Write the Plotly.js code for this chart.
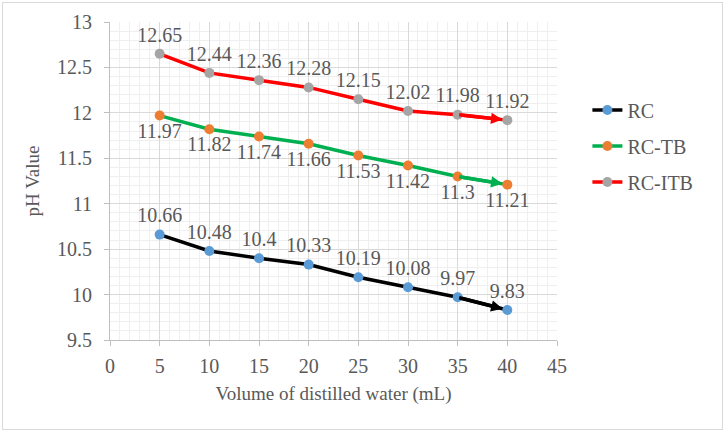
<!DOCTYPE html>
<html>
<head>
<meta charset="utf-8">
<script src="https://cdn.plot.ly/plotly-3.0.1.min.js"></script>
<style>
  body { margin: 0; background: #fff; }
  #frame { position: absolute; left: 2px; top: 2px; width: 719px; height: 426px; border: 1px solid #d9d9d9; }
  #chart { width: 719px; height: 426px; }
</style>
</head>
<body>
<div id="frame"><div id="chart"></div></div>
<script>
// volume of distilled water (mL)
const volume = [5, 10, 15, 20, 25, 30, 35, 40];
const rc = [10.66, 10.48, 10.4, 10.33, 10.19, 10.08, 9.97, 9.83];
const rcTb = [11.97, 11.82, 11.74, 11.66, 11.53, 11.42, 11.3, 11.21];
const rcItb = [12.65, 12.44, 12.36, 12.28, 12.15, 12.02, 11.98, 11.92];

const SERIES = [
  { name: 'RC', y: rc, line: '#000000', marker: '#5B9BD5', pos: 'top center' },
  { name: 'RC-TB', y: rcTb, line: '#00B050', marker: '#ED7D31', pos: 'bottom center' },
  { name: 'RC-ITB', y: rcItb, line: '#FF0000', marker: '#A5A5A5', pos: 'top center' }
];

const SERIF = 'Liberation Serif, Times New Roman, serif';
const font = (size) => ({ family: SERIF, size: size || 20, color: '#595959' });

const data = SERIES.map((s, i) => ({
  x: volume, y: s.y, name: s.name, legendgroup: 'g' + i,
  type: 'scatter', mode: 'lines+markers+text',
  line: { color: s.line, width: 3.5 },
  marker: { color: s.marker, size: 10 },
  text: s.y.map(v => String(v)), textposition: s.pos, textfont: font(),
  cliponaxis: false, hoverinfo: 'x+y'
}));

// arrow heads on last segment of each line
const n = volume.length;
const annotations = SERIES.map(s => ({
  x: volume[n - 1], y: s.y[n - 1], ax: volume[n - 2], ay: s.y[n - 2],
  xref: 'x', yref: 'y', axref: 'x', ayref: 'y',
  text: '', showarrow: true, arrowhead: 2, arrowsize: 0.65,
  arrowwidth: 3.5, arrowcolor: s.line, standoff: 5
}));

const layout = {
  width: 719, height: 426,
  margin: { l: 107, r: 165, t: 19, b: 89 },
  paper_bgcolor: '#ffffff', plot_bgcolor: '#ffffff',
  font: font(),
  showlegend: true,
  legend: { x: 1.068, xanchor: 'left', y: 0.61, yanchor: 'middle', font: font(), tracegroupgap: 7, bgcolor: 'rgba(0,0,0,0)' },
  xaxis: {
    range: [0, 45], dtick: 5, tick0: 0,
    showgrid: true, gridcolor: '#d9d9d9', gridwidth: 1,
    minor: { dtick: 1, showgrid: true, gridcolor: '#efefef', gridwidth: 1 },
    showline: true, linecolor: '#bfbfbf', linewidth: 1,
    ticks: 'outside', ticklen: 5, tickcolor: '#bfbfbf',
    zeroline: false, tickfont: font(), ticklabelstandoff: 3,
    title: { text: 'Volume of distilled water (mL)', font: font(19), standoff: 10 }
  },
  yaxis: {
    range: [9.5, 13], dtick: 0.5, tick0: 9.5,
    showgrid: true, gridcolor: '#d9d9d9', gridwidth: 1,
    minor: { dtick: 0.1, showgrid: true, gridcolor: '#efefef', gridwidth: 1 },
    showline: true, linecolor: '#bfbfbf', linewidth: 1,
    ticks: 'outside', ticklen: 5, tickcolor: '#bfbfbf',
    zeroline: false, tickfont: font(), ticklabelstandoff: 8,
    title: { text: 'pH Value', font: font(19), standoff: 12 }
  },
  annotations: annotations
};

Plotly.newPlot('chart', data, layout, { displayModeBar: false, staticPlot: true });
</script>
</body>
</html>
